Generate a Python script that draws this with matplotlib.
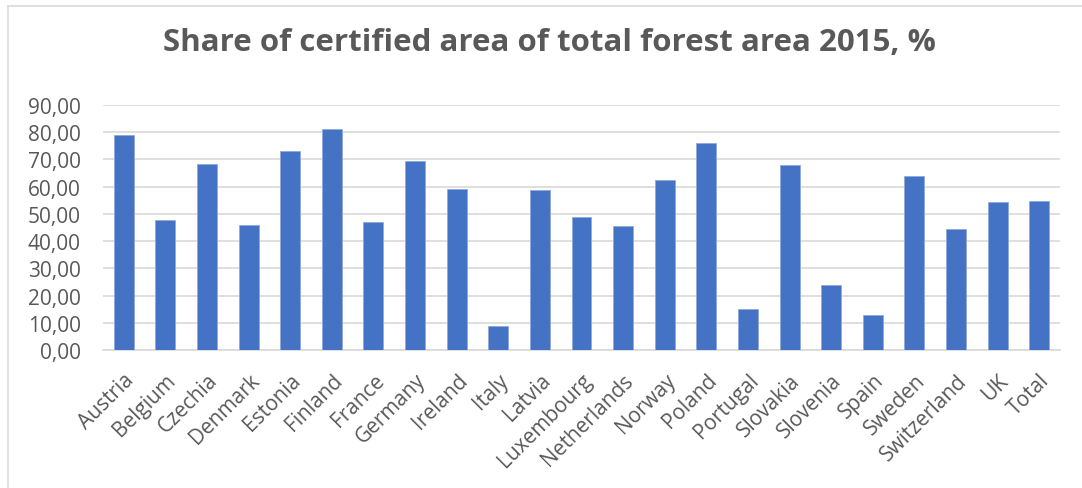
import numpy as np
import matplotlib
matplotlib.use("Agg")
import matplotlib.pyplot as plt
from matplotlib.lines import Line2D

plt.rcParams['font.family'] = ['Open Sans', 'DejaVu Sans']

# Datos
countries = ["Austria", "Belgium", "Czechia", "Denmark", "Estonia", "Finland",
             "France", "Germany", "Ireland", "Italy", "Latvia", "Luxembourg",
             "Netherlands", "Norway", "Poland", "Portugal", "Slovakia",
             "Slovenia", "Spain", "Sweden", "Switzerland", "UK", "Total"]
share = [78.9, 47.9, 68.4, 45.9, 73.0, 81.3,
         47.0, 69.6, 59.1, 8.9, 58.7, 48.7,
         45.5, 62.4, 75.9, 14.9, 67.9,
         23.7, 12.7, 64.1, 44.6, 54.2, 54.7]
yticks = np.arange(0, 91, 10)

grey = "#595959"

fig = plt.figure(figsize=(10.82, 4.89), dpi=100)
ax = fig.add_axes([103/1082, 1 - 351/489, (1060 - 103)/1082, (351 - 106)/489])

x = np.arange(len(countries))
ax.bar(x, share, width=0.48, color="#4472C4", edgecolor="#8FAADC",
       linewidth=0.6, zorder=3)

ax.set_xlim(-0.5, len(countries) - 0.5)
ax.set_ylim(0, 90)
ax.set_yticks(yticks)
ax.set_yticklabels([f"{v:.2f}".replace(".", ",") for v in yticks])
ax.set_xticks(x)
ax.set_xticklabels(countries, rotation=45, ha="right", rotation_mode="anchor")

ax.grid(axis="y", color="#d9d9d9", linewidth=1.2, zorder=0)
for s in ["top", "right", "left"]:
    ax.spines[s].set_visible(False)
ax.spines["bottom"].set_color("#d9d9d9")
ax.spines["bottom"].set_linewidth(1.2)
ax.tick_params(axis="both", length=0, colors=grey, labelsize=15)
ax.tick_params(axis="y", pad=16)
ax.tick_params(axis="x", pad=14)

fig.text(0.508, 0.912, "Share of certified area of total forest area 2015, %",
         ha="center", va="center", fontsize=22.5, fontweight="bold", color=grey)

# Marco del gráfico
fig.add_artist(Line2D([8/1082, 1], [1 - 7/489, 1 - 7/489],
                      transform=fig.transFigure, color="#d9d9d9", linewidth=1.2))
fig.add_artist(Line2D([8/1082, 8/1082], [0, 1 - 7/489],
                      transform=fig.transFigure, color="#d9d9d9", linewidth=1.2))

plt.savefig("out.png", dpi=100)
